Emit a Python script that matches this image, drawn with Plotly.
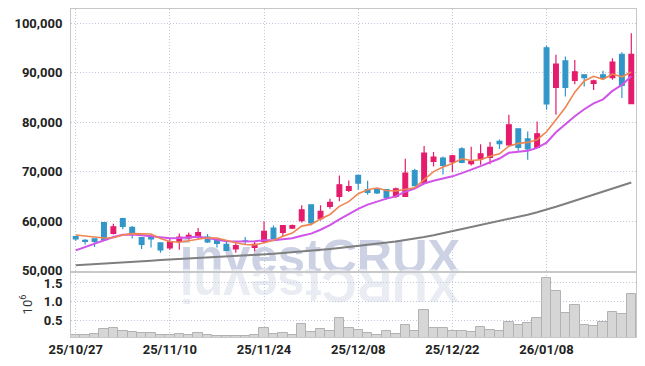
import plotly.graph_objects as go

# ---------------- data ----------------
dates = [
    "2025-10-27", "2025-10-28", "2025-10-29", "2025-10-30", "2025-10-31",
    "2025-11-03", "2025-11-04", "2025-11-05", "2025-11-06", "2025-11-07",
    "2025-11-10", "2025-11-11", "2025-11-12", "2025-11-13", "2025-11-14",
    "2025-11-17", "2025-11-18", "2025-11-19", "2025-11-20", "2025-11-21",
    "2025-11-24", "2025-11-25", "2025-11-26", "2025-11-27", "2025-11-28",
    "2025-12-01", "2025-12-02", "2025-12-03", "2025-12-04", "2025-12-05",
    "2025-12-08", "2025-12-09", "2025-12-10", "2025-12-11", "2025-12-12",
    "2025-12-15", "2025-12-16", "2025-12-17", "2025-12-18", "2025-12-19",
    "2025-12-22", "2025-12-23", "2025-12-24", "2025-12-26", "2025-12-29",
    "2025-12-30", "2026-01-02", "2026-01-05", "2026-01-06", "2026-01-07",
    "2026-01-08", "2026-01-09", "2026-01-12", "2026-01-13", "2026-01-14",
    "2026-01-15", "2026-01-16", "2026-01-19", "2026-01-20", "2026-01-21",
]

open_ = [
    56900, 56100, 56450, 59700, 57550, 60500, 58750, 56700, 56750, 55600,
    54600, 55900, 56600, 56750, 56800, 56300, 55300, 54400, 56000, 54700,
    55900, 58600, 57750, 58600, 60100, 63300, 60500, 63000, 65000, 66200,
    69250, 66350, 66350, 66350, 65000, 65000, 70200, 67700, 72050, 72750,
    71950, 74600, 71600, 72550, 72850, 76100, 75400, 78650, 76600, 74900,
    95000, 87000, 92350, 88400, 89550, 87800, 89550, 89000, 93700, 83750,
]
high = [
    57000, 56400, 56550, 59800, 59500, 60700, 59000, 56800, 57300, 55700,
    56500, 57500, 57700, 58600, 57400, 56500, 55800, 55600, 56800, 55900,
    60000, 59100, 59200, 59300, 63200, 63400, 63200, 64500, 69200, 68200,
    69300, 68150, 66600, 66400, 66800, 72600, 70600, 75200, 73950, 73050,
    73400, 74900, 75000, 75550, 76000, 76500, 81500, 78700, 78100, 80100,
    95450, 93600, 93250, 92550, 89650, 88550, 90350, 92900, 94100, 97950,
]
low = [
    56050, 55300, 54800, 56000, 57300, 58350, 56500, 54400, 54700, 53600,
    54250, 54250, 56300, 56450, 55600, 54700, 54000, 53600, 55300, 53900,
    55600, 56400, 56800, 58400, 59750, 59150, 60150, 62500, 64000, 65900,
    66350, 65350, 65500, 64350, 64700, 64900, 67000, 67500, 71050, 69400,
    69900, 71700, 71250, 71400, 71500, 74550, 75200, 74200, 72400, 74800,
    82500, 81500, 85150, 87650, 87200, 86500, 88500, 88550, 84850, 83700,
]
close = [
    56400, 55900, 55900, 56200, 58850, 58950, 57500, 55300, 56400, 54200,
    55800, 56800, 57150, 57700, 55800, 55500, 54100, 55050, 55900, 55300,
    57950, 56500, 59100, 59100, 62300, 59650, 62000, 63800, 67350, 67000,
    67700, 65800, 65700, 64800, 66500, 69700, 67150, 73750, 72950, 71250,
    73200, 71850, 72050, 73600, 74900, 75650, 79450, 74900, 74600, 77650,
    83700, 91700, 87000, 90150, 89000, 88350, 88850, 92100, 87400, 93700,
]
ma5 = [
    57200, 57000, 56800, 56600, 56650, 57200, 57480, 57400, 57400, 56500,
    55900, 55750, 56050, 56350, 56650, 56600, 56050, 55650, 55300, 55200,
    55650, 56150, 56950, 57600, 59000, 59350, 60450, 61350, 63000, 63950,
    65550, 66350, 66700, 66200, 66100, 66500, 66750, 68400, 70000, 70950,
    71650, 72600, 72250, 72400, 73100, 73600, 75150, 75700, 75900, 76450,
    78050, 80500, 82950, 86050, 88300, 89250, 88650, 89700, 89150, 90100,
]
ma10 = [
    54100, 54800, 55400, 56200, 56800, 57250, 57300, 57150, 56950, 56650,
    56550, 56600, 56700, 56850, 56600, 56300, 55950, 55900, 55850, 55950,
    56130, 56150, 56350, 56550, 57050, 57480, 58270, 59180, 60350, 61500,
    62500, 63350, 64000, 64550, 65000, 65950, 66600, 67600, 68150, 68550,
    69050, 69700, 70350, 71100, 71900, 72650, 73800, 74000, 74200, 74800,
    75850, 77950, 79600, 81200, 82600, 83800, 84600, 86300, 87500, 89250,
]
ma60 = [
    51100, 51200, 51300, 51450, 51550, 51700, 51800, 51900, 52000, 52150,
    52250, 52350, 52450, 52500, 52600, 52700, 52800, 52900, 53000, 53100,
    53250, 53400, 53550, 53700, 53900, 54100, 54250, 54400, 54600, 54800,
    55000, 55200, 55450, 55650, 55900, 56200, 56450, 56800, 57150, 57550,
    57950, 58350, 58750, 59150, 59550, 59950, 60400, 60850, 61300, 61800,
    62300, 62900, 63500, 64100, 64700, 65300, 65900, 66550, 67200, 67800,
]
volume = [
    110000, 95000, 130000, 265000, 290000, 210000, 180000, 150000, 150000, 95000,
    95000, 130000, 95000, 150000, 100000, 70000, 85000, 85000, 70000, 95000,
    280000, 130000, 150000, 100000, 390000, 180000, 260000, 200000, 560000, 280000,
    240000, 150000, 95000, 200000, 120000, 365000, 200000, 770000, 280000, 280000,
    200000, 200000, 175000, 310000, 240000, 200000, 445000, 365000, 420000, 550000,
    1635000, 1280000, 690000, 905000, 365000, 340000, 445000, 715000, 660000, 1200000,
]
tick_dates = ["2025-10-27", "2025-11-10", "2025-11-24", "2025-12-08", "2025-12-22", "2026-01-08"]
tick_labels = ["25/10/27", "25/11/10", "25/11/24", "25/12/08", "25/12/22", "26/01/08"]
price_ticks = [50000, 60000, 70000, 80000, 90000, 100000]
vol_ticks = [0.5, 1.0, 1.5]
vol_tick_labels = ["0.5", "1.0", "1.5"]
watermark = "investCRUX"

# ---------------- style ----------------
RED = "#e51c6c"
BLUE = "#3396c8"
GRID = "#c3c8dc"
FRAME = "#c8c8c8"
TICKFONT = dict(family="Roboto", size=13, color="#222222", weight="bold")

# The page body keeps its default 8px margin, so the figure is sized and
# laid out in page pixels shifted by that offset.
OFF = 8
FIG_W, FIG_H = 645 - 2 * OFF, 366 - 2 * OFF
PLOT_L, PLOT_R, PLOT_T, PLOT_B = 71, 636, 9, 337          # page pixels
L, R = PLOT_L - OFF, FIG_W - (PLOT_R - OFF)
T, B = PLOT_T - OFF, FIG_H - (PLOT_B - OFF)
W, H = FIG_W - L - R, FIG_H - T - B


def px2paper(px, py):
    return (px - OFF - L) / W, (FIG_H - B - (py - OFF)) / H


fig = go.Figure()

fig.add_trace(go.Bar(
    x=dates, y=[v / 1e6 for v in volume], xaxis="x2", yaxis="y2",
    marker=dict(color="#d6d6d6", line=dict(color="#b2b2b2", width=1)),
    showlegend=False, hoverinfo="skip",
))
fig.add_trace(go.Candlestick(
    x=dates, open=open_, high=high, low=low, close=close,
    increasing=dict(line=dict(color=RED, width=1.2), fillcolor=RED),
    decreasing=dict(line=dict(color=BLUE, width=1.2), fillcolor=BLUE),
    whiskerwidth=0, showlegend=False,
))
fig.add_trace(go.Scatter(x=dates, y=ma60, mode="lines",
                         line=dict(color="#7f7f7f", width=2), showlegend=False))
fig.add_trace(go.Scatter(x=dates, y=ma10, mode="lines",
                         line=dict(color="#d154e8", width=2), showlegend=False))
fig.add_trace(go.Scatter(x=dates, y=ma5, mode="lines",
                         line=dict(color="#ef8550", width=1.6), showlegend=False))

# watermark (below traces) built from shape labels
fs = 49
wm_x0, wm_x1 = 180, 460
x0p, y0p = px2paper(wm_x0, 266)
x1p, y1p = px2paper(wm_x1, 236)
# mirrored reflection: the reversed string turned by 180 degrees shows the
# letters in their original order, each one upside down
rx0, ry0 = px2paper(wm_x0, 306)
rx1, ry1 = px2paper(wm_x1, 276)
shapes = [
    dict(type="rect", xref="paper", yref="paper", x0=x0p, x1=x1p, y0=y0p, y1=y1p,
         line=dict(width=0), fillcolor="rgba(0,0,0,0)", layer="between",
         label=dict(text="<b>" + watermark + "</b>", textposition="middle center",
                    font=dict(family="Liberation Sans", size=fs, color="#ccd1e3"))),
    dict(type="rect", xref="paper", yref="paper", x0=rx0, x1=rx1, y0=ry0, y1=ry1,
         line=dict(width=0), fillcolor="rgba(0,0,0,0)", layer="between",
         label=dict(text="<b>" + watermark[::-1] + "</b>", textposition="middle center",
                    textangle=180,
                    font=dict(family="Liberation Sans", size=fs, color="#eaecf4"))),
]

common_grid = dict(showgrid=True, gridcolor=GRID, griddash="1px,2px", gridwidth=1,
                   showline=True, mirror=True, linecolor=FRAME, linewidth=1,
                   zeroline=False, automargin=False)

# panel split at page pixel y = 272
split = (PLOT_B - 272) / H

fig.update_layout(
    width=FIG_W, height=FIG_H,
    margin=dict(l=L, r=R, t=T, b=B, autoexpand=False),
    paper_bgcolor="white", plot_bgcolor="white",
    showlegend=False, bargap=0, boxgap=0.28,
    shapes=shapes,
    xaxis=dict(domain=[0, 1], anchor="y", type="category", categoryorder="array",
               categoryarray=dates, range=[-0.5, len(dates) - 0.5],
               tickvals=tick_dates, showticklabels=False, ticks="",
               rangeslider=dict(visible=False), **common_grid),
    yaxis=dict(domain=[split + 0.001, 1], anchor="x", range=[49800, 102840],
               tickvals=price_ticks, tickformat=",d", tickfont=TICKFONT,
               ticks="", ticklabelstandoff=5, **common_grid),
    xaxis2=dict(domain=[0, 1], anchor="y2", type="category", categoryorder="array",
                categoryarray=dates, range=[-0.5, len(dates) - 0.5],
                tickvals=tick_dates, ticktext=tick_labels, tickfont=TICKFONT,
                ticks="", ticklabelstandoff=0, tickangle=0, **common_grid),
    yaxis2=dict(domain=[0, split], anchor="x2", range=[0.05, 1.795],
                tickvals=vol_ticks, ticktext=vol_tick_labels, tickfont=TICKFONT,
                ticks="", ticklabelstandoff=5,
                title=dict(text="10<sup>6</sup>", standoff=8,
                           font=dict(family="Roboto", size=13, color="#333333")),
                **common_grid),
)

fig.write_html("out.html")
